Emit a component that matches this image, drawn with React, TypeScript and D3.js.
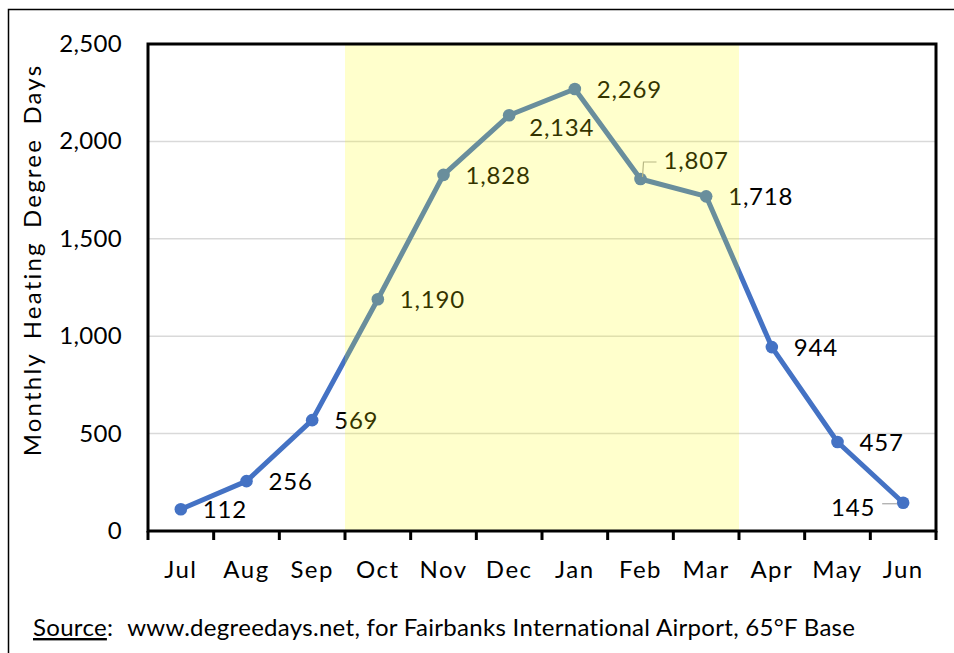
import React from "react";
import * as d3 from "d3";

const months = ["Jul", "Aug", "Sep", "Oct", "Nov", "Dec", "Jan", "Feb", "Mar", "Apr", "May", "Jun"];
const hdd = [112, 256, 569, 1190, 1828, 2134, 2269, 1807, 1718, 944, 457, 145];
const yTicks = [0, 500, 1000, 1500, 2000, 2500];
const highlightStart = "Oct";
const highlightEnd = "Mar";

const FONT = "Lato, 'Open Sans', sans-serif";

export default function App() {
  const W = 954, H = 653;
  const left = 148, right = 936, top = 44, bottom = 531;
  const x = d3.scaleBand<string>().domain(months).range([left, right]);
  const y = d3.scaleLinear().domain([0, 2500]).range([bottom, top]);
  const cx = (m: string) => (x(m) as number) + x.bandwidth() / 2;
  const line = d3.line<number>().x((_, i) => cx(months[i])).y((d) => y(d));
  const fmt = d3.format(",");
  const bx0 = x(highlightStart) as number;
  const bx1 = (x(highlightEnd) as number) + x.bandwidth();

  const labelPos = (i: number) => {
    const px = cx(months[i]);
    const py = y(hdd[i]);
    if (months[i] === "Dec") return { x: px + 20, y: py + 21, anchor: "start" };
    if (months[i] === "Feb") return { x: px + 23, y: py - 10, anchor: "start" };
    if (months[i] === "Jun") return { x: px - 28, y: py + 13, anchor: "end" };
    return { x: px + 22, y: py + 9, anchor: "start" };
  };

  return (
    <svg width={W} height={H} style={{ position: "absolute", left: 0, top: 0 }} fontFamily={FONT}>
      <rect x={0} y={0} width={W} height={H} fill="#fff" />
      <rect x={8.5} y={9.5} width={W + 10} height={H + 10} fill="none" stroke="#000" strokeWidth={1.5} />
      {yTicks.filter((t) => t > 0).map((t) => (
        <line key={t} x1={left} x2={right} y1={y(t)} y2={y(t)} stroke="#d9d9d9" strokeWidth={1.5} />
      ))}
      <path d={line(hdd) || ""} fill="none" stroke="#4472C4" strokeWidth={5} strokeLinejoin="round" />
      {hdd.map((v, i) => (
        <circle key={i} cx={cx(months[i])} cy={y(v)} r={6.3} fill="#4472C4" />
      ))}
      {/* leader lines */}
      <polyline
        points={`${cx("Feb") + 2},${y(1807) - 2} ${cx("Feb") + 3},${y(1807) - 17} ${cx("Feb") + 16},${y(1807) - 17}`}
        fill="none" stroke="#a6a6a6" strokeWidth={1.2}
      />
      <line x1={cx("Jun") - 21} x2={cx("Jun") - 6} y1={y(145) + 1} y2={y(145) + 1} stroke="#a6a6a6" strokeWidth={1.2} />
      {hdd.map((v, i) => {
        const p = labelPos(i);
        return (
          <text key={i} x={p.x} y={p.y} textAnchor={p.anchor} fontSize={24} letterSpacing={0.8} fill="#000">
            {fmt(v)}
          </text>
        );
      })}
      <rect x={bx0} y={top} width={bx1 - bx0} height={bottom - top} fill="#FFFF00" fillOpacity={0.2} />
      <rect x={left} y={top} width={right - left} height={bottom - top} fill="none" stroke="#000" strokeWidth={3} />
      {d3.range(months.length + 1).map((i) => {
        const tx = left + i * x.bandwidth();
        return <line key={i} x1={tx} x2={tx} y1={bottom} y2={bottom + 9} stroke="#000" strokeWidth={3} />;
      })}
      {yTicks.map((t) => (
        <text key={t} x={122} y={y(t) + 8} textAnchor="end" fontSize={24} letterSpacing={0.3} fill="#000">
          {fmt(t)}
        </text>
      ))}
      {months.map((m) => (
        <text key={m} x={cx(m)} y={578} textAnchor="middle" fontSize={24} letterSpacing={1.5} fill="#000">
          {m}
        </text>
      ))}
      <text transform={`translate(41,260) rotate(-90)`} textAnchor="middle" fontSize={24} letterSpacing={2.2} wordSpacing={5} fill="#000">
        Monthly Heating Degree Days
      </text>
      <text x={33} y={636} fontSize={24} letterSpacing={0.3} fill="#000">
        <tspan textDecoration="underline">Source</tspan>
        <tspan>:</tspan>
        <tspan dx={14}>www.degreedays.net, for Fairbanks International Airport, 65°F Base</tspan>
      </text>
    </svg>
  );
}
